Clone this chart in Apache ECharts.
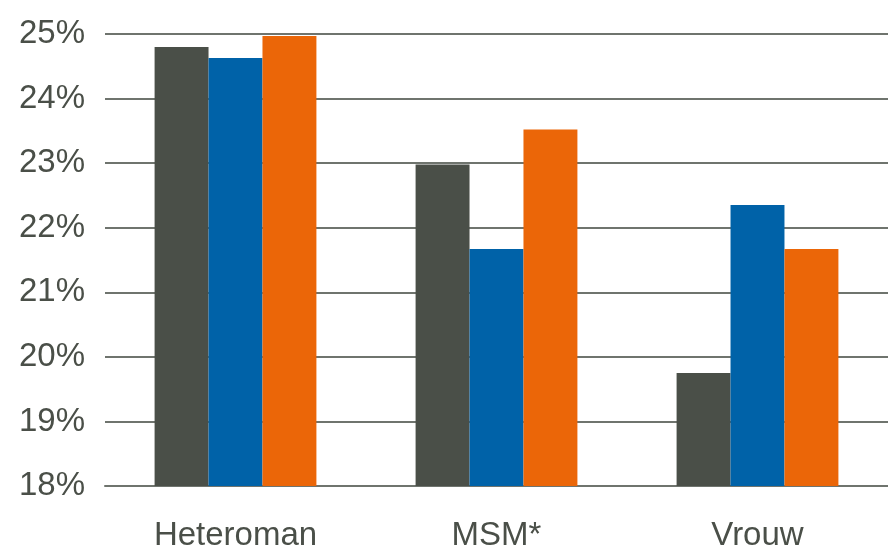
<!DOCTYPE html>
<html><head><meta charset="utf-8">
<script src="https://cdn.jsdelivr.net/npm/echarts@6/dist/echarts.min.js"></script>
<style>html,body{margin:0;padding:0;background:#fff}#c{width:888px;height:548px}</style>
</head><body><div id="c"></div>
<script>
const categories = ['Heteroman', 'MSM*', 'Vrouw'];
const seriesGray = [24.80, 22.98, 19.75];
const seriesBlue = [24.63, 21.67, 22.35];
const seriesOrange = [24.97, 23.52, 21.67];
const colors = ['#4a4f48', '#0062a8', '#eb6608'];
const txt = '#4a4f48';
const chart = echarts.init(document.getElementById('c'));
const mk = (d, i) => ({type: 'bar', data: d, barGap: '0%', barCategoryGap: '38%', itemStyle: {color: colors[i]}, silent: true});
chart.setOption({
  animation: false,
  grid: {left: 105, right: 0, top: 34, bottom: 62, containLabel: false, outerBoundsMode: 'none'},
  xAxis: {type: 'category', data: categories,
    axisLine: {show: true, lineStyle: {color: '#6f746e', width: 2}},
    axisTick: {show: false},
    axisLabel: {color: txt, fontSize: 33, fontFamily: 'Liberation Sans, Arial, sans-serif', margin: 33}},
  yAxis: {type: 'value', min: 18, max: 25, interval: 1,
    axisLine: {show: false}, axisTick: {show: false},
    splitLine: {lineStyle: {color: '#6f746e', width: 2}},
    axisLabel: {color: txt, fontSize: 33, fontFamily: 'Liberation Sans, Arial, sans-serif', margin: 20, formatter: v => v + '%'}},
  series: [mk(seriesGray, 0), mk(seriesBlue, 1), mk(seriesOrange, 2)]
});
</script></body></html>
